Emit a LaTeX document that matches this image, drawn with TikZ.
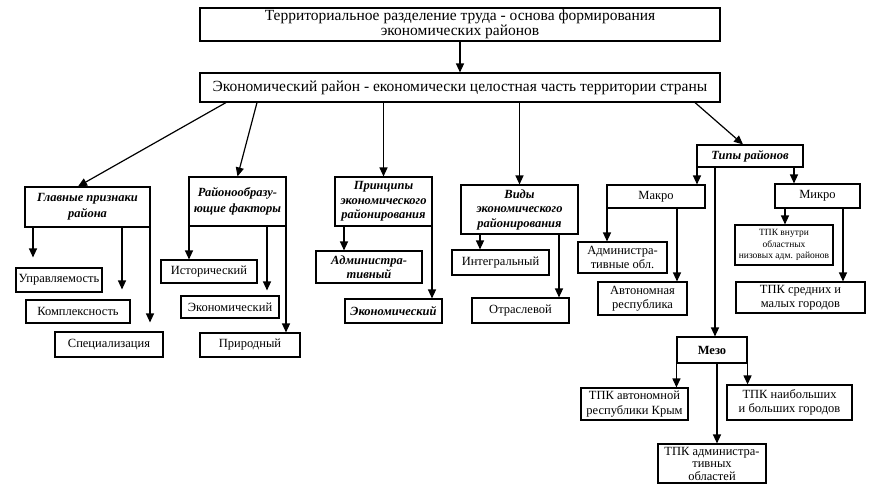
\documentclass[tikz,border=0pt]{standalone}
\usepackage{fontspec}
\setmainfont{Liberation Serif}
\usetikzlibrary{arrows.meta,positioning}
\tikzstyle{block} = [rectangle, draw, line width=1.1pt, align=center, inner sep=0pt,
    font=\fontsize{12.5}{14.5}\selectfont]
\tikzstyle{head} = [block, font=\fontsize{12.5}{14.5}\selectfont\bfseries\itshape]
\tikzstyle{line} = [draw, line width=1.2pt, -{Triangle[width=8pt,length=9pt]}]

\begin{document}
\begin{tikzpicture}[x=1pt,y=1pt,node distance=60pt]
    \useasboundingbox (0,0) rectangle (875,-492);
    % Place nodes
    \node [block, font=\fontsize{15.5}{15}\selectfont, minimum width=520pt, minimum height=33pt] (labour) at (460,-24.5) {Территориальное разделение труда - основа формирования\\ экономических районов};
    \node [block, font=\fontsize{15.5}{15}\selectfont, minimum width=520pt, minimum height=29pt, below of=labour, yshift=-3pt] (region) {Экономический район - економически целостная часть территории страны};
    \node [head, font=\fontsize{12.5}{16}\selectfont\bfseries\itshape, minimum width=125pt, minimum height=40pt, below of=region, xshift=-372.5pt, yshift=-59.5pt] (signs) {Главные признаки\\ района};
    \node [head, font=\fontsize{12.5}{16}\selectfont\bfseries\itshape, minimum width=97pt, minimum height=49pt, below of=region, xshift=-222.5pt, yshift=-54pt] (factors) {Районообразу-\\ющие факторы};
    \node [head, minimum width=97pt, minimum height=49pt, below of=region, xshift=-76.5pt, yshift=-54pt] (princ) {Принципы\\ экономического\\ районирования};
    \node [head, minimum width=117pt, minimum height=49pt, below of=region, xshift=59.5pt, yshift=-62pt] (kinds) {Виды\\ экономического\\ районирования};
    \node [head, minimum width=106pt, minimum height=22pt, below of=region, xshift=290pt, yshift=-8.5pt] (types) {Типы районов};
    % main signs
    \node [block, minimum width=86pt, minimum height=24pt, below of=signs, xshift=-28.5pt, yshift=-13pt] (manage) {Управляемость};
    \node [block, minimum width=104pt, minimum height=23pt, below of=signs, xshift=-9.5pt, yshift=-44.5pt] (complex) {Комплексность};
    \node [block, minimum width=108pt, minimum height=25pt, below of=signs, xshift=21.5pt, yshift=-77.5pt] (spec) {Специализация};
    % factors
    \node [block, minimum width=96pt, minimum height=23pt, below of=factors, xshift=-28.5pt, yshift=-10pt] (hist) {Исторический};
    \node [block, minimum width=98pt, minimum height=22pt, below of=factors, xshift=-7.5pt, yshift=-45.5pt] (econf) {Экономический};
    \node [block, minimum width=100pt, minimum height=24pt, below of=factors, xshift=12.5pt, yshift=-83.5pt] (nat) {Природный};
    % principles
    \node [head, minimum width=106pt, minimum height=32pt, below of=princ, xshift=-14.5pt, yshift=-5.5pt] (admp) {Администра-\\тивный};
    \node [head, minimum width=97pt, minimum height=24pt, below of=princ, xshift=10pt, yshift=-49.5pt] (econp) {Экономический};
    % kinds
    \node [block, minimum width=97pt, minimum height=25pt, below of=kinds, xshift=-19pt, yshift=7pt] (integ) {Интегральный};
    \node [block, minimum width=97pt, minimum height=25pt, below of=kinds, xshift=1pt, yshift=-41pt] (branch) {Отраслевой};
    % types
    \node [block, minimum width=98pt, minimum height=23pt, below of=types, xshift=-94pt, yshift=19.5pt] (macro) {Макро};
    \node [block, minimum width=85pt, minimum height=24pt, below of=types, xshift=67.5pt, yshift=20pt] (micro) {Микро};
    \node [block, font=\fontsize{12.5}{14.5}\selectfont\bfseries, minimum width=70pt, minimum height=26pt, below of=types, xshift=-38pt, yshift=-134pt] (meso) {Мезо};
    \node [block, minimum width=89pt, minimum height=31pt, below of=macro, xshift=-33.5pt, yshift=-1pt] (admobl) {Администра-\\тивные обл.};
    \node [block, minimum width=89pt, minimum height=33pt, below of=macro, xshift=-13.5pt, yshift=-42pt] (autorep) {Автономная\\ республика};
    \node [block, font=\fontsize{9.5}{11.5}\selectfont, minimum width=98pt, minimum height=40pt, below of=micro, xshift=-33.5pt, yshift=11pt] (inner) {ТПК внутри\\ областных\\ низовых адм. районов};
    \node [block, minimum width=129pt, minimum height=31pt, below of=micro, xshift=-17pt, yshift=-41.5pt] (towns) {ТПК средних и\\ малых городов};
    \node [block, minimum width=107pt, minimum height=32pt, below of=meso, xshift=-77.5pt, yshift=6pt] (crimea) {ТПК автономной\\ республики Крым};
    \node [block, minimum width=125pt, minimum height=35pt, below of=meso, xshift=77.5pt, yshift=7.5pt] (cities) {ТПК наибольших\\ и больших городов};
    \node [block, font=\fontsize{12.5}{12.5}\selectfont, minimum width=108pt, minimum height=39pt, below of=meso, yshift=-53.5pt] (admreg) {ТПК администра-\\тивных\\ областей};
    % Draw edges
    \path [line] (labour) -- (region);
    \path [line] ([xshift=-234pt]region.south) -- ([xshift=-9.5pt]signs.north);
    \path [line] ([xshift=-203pt]region.south) -- (factors.north);
    \path [line] (region.south -| princ.north) -- (princ.north);
    \path [line] (region.south -| kinds.north) -- (kinds.north);
    \path [line] ([xshift=235pt]region.south) -- ([xshift=-7pt]types.north);
    \path [line, shorten >=10pt] ([xshift=-54.5pt]signs.south) -- ([xshift=-54.5pt]signs.south |- manage.north);
    \path [line, shorten >=10pt] ([xshift=34.5pt]signs.south) -- ([xshift=34.5pt]signs.south |- complex.north);
    \path [line, shorten >=9pt] ([xshift=62.5pt]signs.south) -- ([xshift=62.5pt]signs.south |- spec.north);
    \path [line] ([xshift=-48.5pt]factors.south) -- ([xshift=-48.5pt]factors.south |- hist.north);
    \path [line, shorten >=5pt] ([xshift=29.5pt]factors.south) -- ([xshift=29.5pt]factors.south |- econf.north);
    \path [line] ([xshift=48.5pt]factors.south) -- ([xshift=48.5pt]factors.south |- nat.north);
    \path [line] ([xshift=-39.5pt]princ.south) -- ([xshift=-39.5pt]princ.south |- admp.north);
    \path [line] ([xshift=48.5pt]princ.south) -- ([xshift=48.5pt]princ.south |- econp.north);
    \path [line] ([xshift=-39.5pt]kinds.south) -- ([xshift=-39.5pt]kinds.south |- integ.north);
    \path [line] ([xshift=39.5pt]kinds.south) -- ([xshift=39.5pt]kinds.south |- branch.north);
    \path [line] ([xshift=-53pt]types.south) -- ([xshift=-53pt]types.south |- macro.north);
    \path [line] ([xshift=-35pt]types.south) -- ([xshift=-35pt]types.south |- meso.north);
    \path [line] ([xshift=44pt]types.south) -- ([xshift=44pt]types.south |- micro.north);
    \path [line] ([xshift=-49pt]macro.south) -- ([xshift=-49pt]macro.south |- admobl.north);
    \path [line] ([xshift=21pt]macro.south) -- ([xshift=21pt]macro.south |- autorep.north);
    \path [line] ([xshift=-32.5pt]micro.south) -- ([xshift=-32.5pt]micro.south |- inner.north);
    \path [line] ([xshift=25.5pt]micro.south) -- ([xshift=25.5pt]micro.south |- towns.north);
    \path [line] (meso.south west) -- (meso.south west |- crimea.north);
    \path [line] ([xshift=5pt]meso.south) -- ([xshift=5pt]meso.south |- admreg.north);
    \path [line] (meso.south east) -- (meso.south east |- cities.north);

\end{tikzpicture}
\end{document}
